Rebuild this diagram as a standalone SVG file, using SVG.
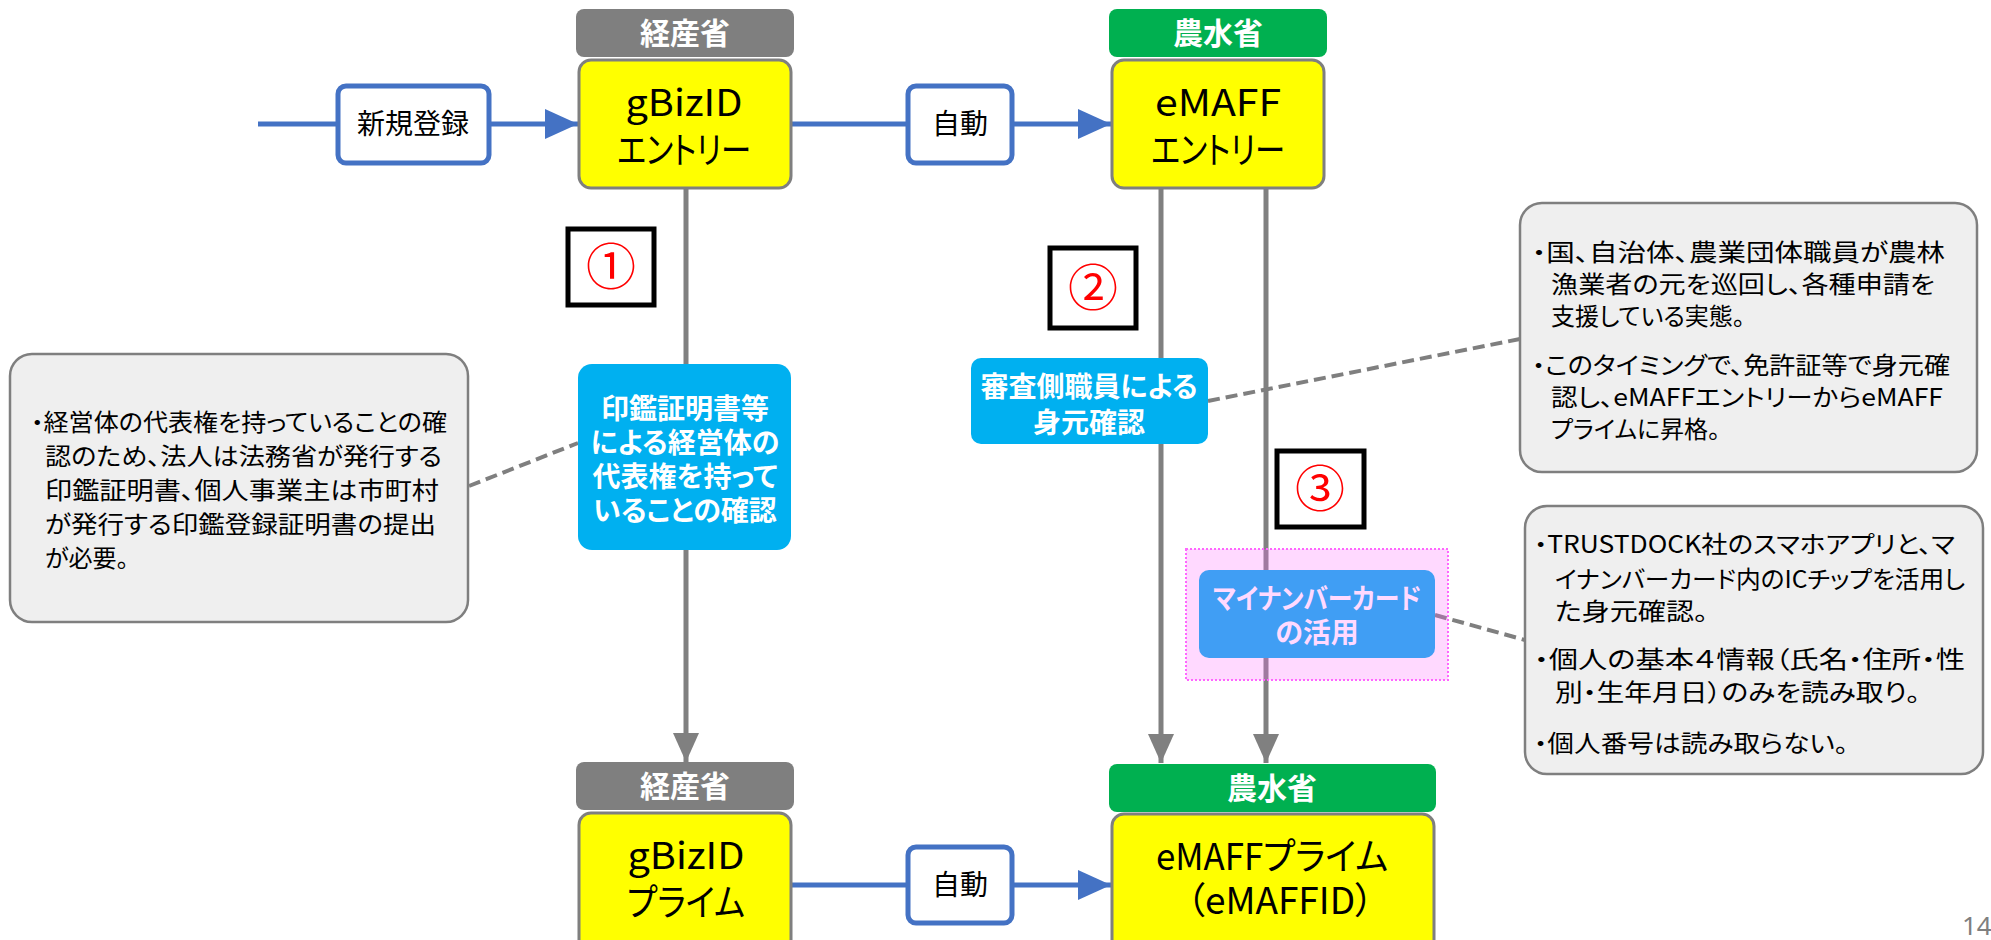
<svg xmlns="http://www.w3.org/2000/svg" width="1991" height="940" viewBox="0 0 1991 940">
<style>
text{font-family:"Noto Sans CJK JP","Noto Sans",sans-serif;font-feature-settings:"palt";}
.hdr{fill:#fff;font-weight:bold;font-size:30px;text-anchor:middle;}
.ytx{fill:#000;font-size:37px;text-anchor:middle;}
.lbt{fill:#000;font-size:28px;text-anchor:middle;}
.btx{fill:#fff;font-weight:bold;font-size:28px;text-anchor:middle;}
.ctx{fill:#000;font-size:24px;}
.ctx2{fill:#000;font-size:24px;}
.num{fill:#ff0000;font-size:50px;text-anchor:middle;}
.hg{fill:#7f7f7f;}
.hn{fill:#00b050;}
.yb{fill:#ffff00;stroke:#7f7f7f;stroke-width:3;}
.lb{fill:#fff;stroke:#4472c4;stroke-width:5;}
.co{fill:#efefef;stroke:#7f7f7f;stroke-width:2.5;}
.nb{fill:#fff;stroke:#000;stroke-width:5;}
.bb{fill:#00b0f0;}
.cb{stroke:#4472c4;stroke-width:5;fill:none;}
.cg{stroke:#808080;stroke-width:5;fill:none;}
.cd{stroke:#7f7f7f;stroke-width:4;stroke-dasharray:12 6;fill:none;}
</style>
<defs>
<marker id="ab" markerUnits="userSpaceOnUse" markerWidth="33" markerHeight="30" refX="33" refY="15" orient="auto"><path d="M0,0 L33,15 L0,30 z" fill="#4472c4"/></marker>
<marker id="ag" markerUnits="userSpaceOnUse" markerWidth="29" markerHeight="26" refX="29" refY="13" orient="auto"><path d="M0,0 L29,13 L0,26 z" fill="#808080"/></marker>
</defs>

<g id="connectors">
<path class="cb" d="M258,124 H578" marker-end="url(#ab)"/>
<path class="cb" d="M791,124 H1111" marker-end="url(#ab)"/>
<path class="cb" d="M791,885 H1111" marker-end="url(#ab)"/>
<path class="cg" d="M686,188 V762" marker-end="url(#ag)"/>
<path class="cg" d="M1161,188 V763" marker-end="url(#ag)"/>
<path class="cg" d="M1266,188 V763" marker-end="url(#ag)"/>
<path class="cd" d="M469,486 L578,443"/>
<path class="cd" d="M1208,401 L1520,339"/>
<path class="cd" d="M1435,615 L1525,640"/>
</g>

<g id="label-shinki">
<rect class="lb" x="338" y="86" width="151" height="77" rx="8"/>
<text class="lbt" x="413" y="134">新規登録</text>
</g>
<g id="label-jido1">
<rect class="lb" x="908" y="86" width="104" height="77" rx="8"/>
<text class="lbt" x="960" y="134">自動</text>
</g>
<g id="label-jido2">
<rect class="lb" x="908" y="847" width="104" height="76" rx="8"/>
<text class="lbt" x="960" y="895">自動</text>
</g>

<g id="gbiz-entry">
<rect class="hg" x="576" y="9" width="218" height="48" rx="8"/>
<text class="hdr" x="685" y="44">経産省</text>
<rect class="yb" x="579" y="60" width="212" height="128" rx="12"/>
<text class="ytx"><tspan x="684" y="116" textLength="117" lengthAdjust="spacingAndGlyphs">gBizID</tspan><tspan x="684" y="164" textLength="134" lengthAdjust="spacingAndGlyphs">エントリー</tspan></text>
</g>

<g id="emaff-entry">
<rect class="hn" x="1109" y="9" width="218" height="48" rx="8"/>
<text class="hdr" x="1218" y="44">農水省</text>
<rect class="yb" x="1112" y="60" width="212" height="128" rx="12"/>
<text class="ytx"><tspan x="1218" y="116" textLength="126" lengthAdjust="spacingAndGlyphs">eMAFF</tspan><tspan x="1218" y="164" textLength="134" lengthAdjust="spacingAndGlyphs">エントリー</tspan></text>
</g>

<g id="gbiz-prime">
<rect class="hg" x="576" y="762" width="218" height="48" rx="8"/>
<text class="hdr" x="685" y="797">経産省</text>
<rect class="yb" x="579" y="813" width="212" height="140" rx="12"/>
<text class="ytx"><tspan x="686" y="869" textLength="117" lengthAdjust="spacingAndGlyphs">gBizID</tspan><tspan x="686" y="916" textLength="118" lengthAdjust="spacingAndGlyphs">プライム</tspan></text>
</g>

<g id="emaff-prime">
<rect class="hn" x="1109" y="764" width="327" height="48" rx="8"/>
<text class="hdr" x="1272" y="799">農水省</text>
<rect class="yb" x="1112" y="814" width="322" height="140" rx="12"/>
<text class="ytx"><tspan x="1272" y="870" textLength="232" lengthAdjust="spacingAndGlyphs">eMAFFプライム</tspan><tspan x="1280" y="914">（eMAFFID）</tspan></text>
</g>

<g id="num1">
<rect class="nb" x="568" y="229" width="86" height="76"/>
<text class="num" x="611" y="285">①</text>
</g>
<g id="num2">
<rect class="nb" x="1050" y="248" width="86" height="80"/>
<text class="num" x="1093" y="306">②</text>
</g>
<g id="num3">
<rect class="nb" x="1277" y="451" width="87" height="76"/>
<text class="num" x="1320" y="507">③</text>
</g>

<g id="step1">
<rect class="bb" x="578" y="364" width="213" height="186" rx="14"/>
<text class="btx"><tspan x="685" y="419">印鑑証明書等</tspan><tspan x="685" y="453">による経営体の</tspan><tspan x="685" y="487">代表権を持って</tspan><tspan x="685" y="521">いることの確認</tspan></text>
</g>

<g id="step2">
<rect class="bb" x="971" y="358" width="237" height="86" rx="10"/>
<text class="btx"><tspan x="1089" y="397">審査側職員による</tspan><tspan x="1089" y="433">身元確認</tspan></text>
</g>

<g id="step3">
<rect class="bb" x="1199" y="570" width="236" height="88" rx="10"/>
<text class="btx"><tspan x="1317" y="609" textLength="208" lengthAdjust="spacingAndGlyphs">マイナンバーカード</tspan><tspan x="1317" y="643">の活用</tspan></text>
<rect x="1186" y="549" width="262" height="131" fill="#ff66ff" fill-opacity="0.25" stroke="#ff66ff" stroke-width="2" stroke-dasharray="2 2"/>
</g>

<g id="note-left">
<rect class="co" x="10" y="354" width="458" height="268" rx="22"/>
<text class="ctx" x="31" y="431" textLength="416" lengthAdjust="spacingAndGlyphs">・経営体の代表権を持っていることの確</text>
<text class="ctx" x="45" y="465" textLength="397" lengthAdjust="spacingAndGlyphs">認のため、法人は法務省が発行する</text>
<text class="ctx" x="45" y="499" textLength="394" lengthAdjust="spacingAndGlyphs">印鑑証明書、個人事業主は市町村</text>
<text class="ctx" x="45" y="533" textLength="391" lengthAdjust="spacingAndGlyphs">が発行する印鑑登録証明書の提出</text>
<text class="ctx" x="45" y="567">が必要。</text>
</g>

<g id="note-right-top">
<rect class="co" x="1520" y="203" width="457" height="269" rx="22"/>
<text class="ctx" x="1532" y="261" textLength="413" lengthAdjust="spacingAndGlyphs">・国、自治体、農業団体職員が農林</text>
<text class="ctx" x="1551" y="293" textLength="384" lengthAdjust="spacingAndGlyphs">漁業者の元を巡回し、各種申請を</text>
<text class="ctx" x="1551" y="325">支援している実態。</text>
<text class="ctx" x="1532" y="374" textLength="418" lengthAdjust="spacingAndGlyphs">・このタイミングで、免許証等で身元確</text>
<text class="ctx" x="1551" y="406" textLength="392" lengthAdjust="spacingAndGlyphs">認し、eMAFFエントリーからeMAFF</text>
<text class="ctx" x="1551" y="438">プライムに昇格。</text>
</g>

<g id="note-right-bottom">
<rect class="co" x="1525" y="506" width="458" height="268" rx="22"/>
<text class="ctx2" x="1534" y="553" textLength="421" lengthAdjust="spacingAndGlyphs">・TRUSTDOCK社のスマホアプリと、マ</text>
<text class="ctx2" x="1555" y="588" textLength="410" lengthAdjust="spacingAndGlyphs">イナンバーカード内のICチップを活用し</text>
<text class="ctx2" x="1555" y="620" textLength="153" lengthAdjust="spacingAndGlyphs">た身元確認。</text>
<text class="ctx2" x="1534" y="668" textLength="431" lengthAdjust="spacingAndGlyphs">・個人の基本４情報（氏名・住所・性</text>
<text class="ctx2" x="1555" y="701" textLength="365" lengthAdjust="spacingAndGlyphs">別・生年月日）のみを読み取り。</text>
<text class="ctx2" x="1534" y="752" textLength="314" lengthAdjust="spacingAndGlyphs">・個人番号は読み取らない。</text>
</g>

<text x="1962" y="935" font-size="26" fill="#7f7f7f" style="font-family:'Noto Sans',sans-serif">14</text>
</svg>
